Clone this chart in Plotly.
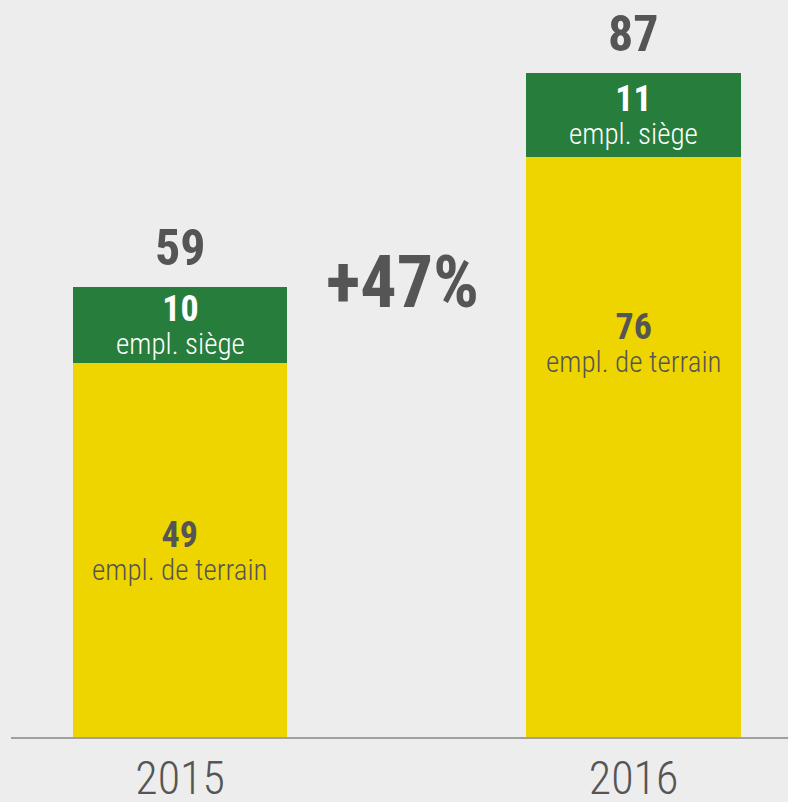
import plotly.graph_objects as go

years = ["2015", "2016"]
terrain = [49, 76]
siege = [10, 11]
totals = [59, 87]
growth_label = "+47%"
terrain_label = "empl. de terrain"
siege_label = "empl. siège"

BG = "#ededed"
YELLOW = "#efd500"
GREEN = "#277d3b"
TXT = "#555555"
FONT = "Roboto Condensed, Liberation Sans Narrow, sans-serif"

x = [0, 1]
fig = go.Figure()
fig.add_trace(go.Bar(x=x, y=terrain, marker=dict(color=YELLOW, line=dict(width=0)),
                     width=0.472, hoverinfo="skip"))
fig.add_trace(go.Bar(x=x, y=siege, marker=dict(color=GREEN, line=dict(width=0)),
                     width=0.472, hoverinfo="skip"))


def block(num, label):
    return (f"<b><span style='font-size:36px'>{num}</span></b><br>"
            f"<span style='font-size:29px'>{label}</span>")


ann = []
yellow_extra = [0, 104]  # vertical offset of terrain label for each bar
for i in range(2):
    ann.append(dict(x=x[i], y=totals[i], text=f"<b>{totals[i]}</b>", showarrow=False,
                    yshift=39, font=dict(family=FONT, size=50, color=TXT)))
    gmid = terrain[i] + siege[i] / 2
    ann.append(dict(x=x[i], y=gmid, text=block(siege[i], siege_label), showarrow=False,
                    yshift=0, font=dict(family=FONT, size=25, color="white", weight=300)))
    ymid = terrain[i] / 2
    ann.append(dict(x=x[i], y=ymid, text=block(terrain[i], terrain_label), showarrow=False,
                    yshift=yellow_extra[i], font=dict(family=FONT, size=25, color=TXT, weight=300)))

ann.append(dict(x=0.5, y=0.617, yref="paper", xref="x", xshift=-4, text=f"<b>{growth_label}</b>",
                showarrow=False, font=dict(family=FONT, size=72, color=TXT)))

fig.update_layout(
    barmode="stack",
    width=788, height=802,
    margin=dict(l=11, r=0, t=0, b=65, autoexpand=False),
    paper_bgcolor=BG, plot_bgcolor=BG,
    showlegend=False,
    annotations=ann,
    xaxis=dict(range=[-0.3727, 1.3407], tickvals=x, ticktext=years, automargin=False,
               showline=True, linecolor="#a0a0a0", linewidth=2,
               showgrid=False, zeroline=False, ticks="", ticklen=0,
               tickfont=dict(family=FONT, size=46, color=TXT, weight=300), fixedrange=True),
    yaxis=dict(range=[0, 96.56], visible=False, showgrid=False, zeroline=False,
               automargin=False, fixedrange=True),
)

fig.write_html("out.html", config={"displayModeBar": False},
               post_script="document.body.style.margin='0';document.body.style.background='#ededed';")
